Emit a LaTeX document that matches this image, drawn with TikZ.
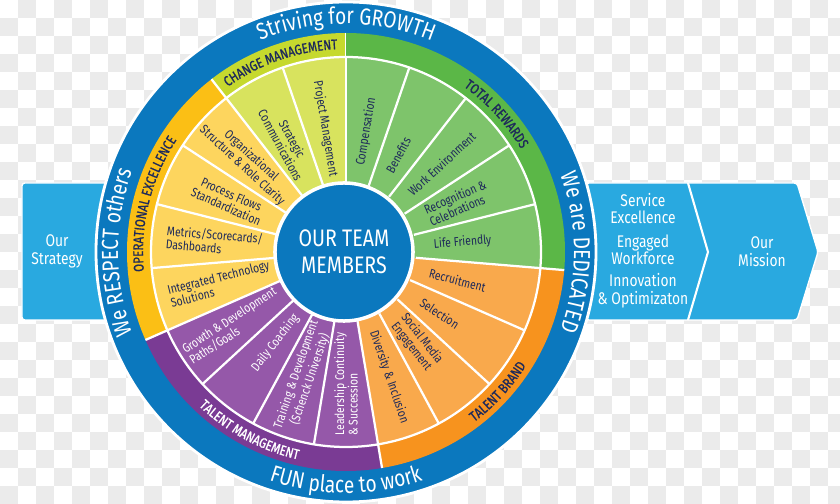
\documentclass[tikz,border=0pt]{standalone}
\usepackage{fontspec}
\setmainfont{Fira Sans}[FakeStretch=0.82]
\newfontfamily\medfont{Fira Sans}[FakeStretch=0.82, FakeBold=0.9]
\usetikzlibrary{decorations.text}

\definecolor{ringblue}{HTML}{0B78BE}
\definecolor{arrowblue}{HTML}{29A9E0}
\definecolor{navy}{HTML}{1E2A5A}
\definecolor{checker}{HTML}{EBEBEB}
\definecolor{cmband}{HTML}{C6D92E}
\definecolor{cmsub}{HTML}{D8E35E}
\definecolor{oeband}{HTML}{FBBF15}
\definecolor{oesub}{HTML}{FDD55E}
\definecolor{tmband}{HTML}{7A3B94}
\definecolor{tmsub}{HTML}{9558A9}
\definecolor{tbband}{HTML}{F7931E}
\definecolor{tbsub}{HTML}{F9A94C}
\definecolor{trband}{HTML}{5BB747}
\definecolor{trsub}{HTML}{7EC46B}

\newcommand\ringfont{\fontsize{16.5}{17}\selectfont\color{white}}
\newcommand\bandfont{\medfont\fontsize{10}{10}\selectfont\color{navy}}
\newcommand\bandfontw{\medfont\fontsize{10}{10}\selectfont\color{white}}
\def\w{18.947}

\begin{document}
\begin{tikzpicture}[x=0.025cm, y=0.025cm,
  sub/.style={font=\fontsize{9}{9.5}\selectfont, text=navy, align=center, inner sep=0pt},
  subw/.style={sub, text=white},
  arrtext/.style={font=\fontsize{12}{12.5}\selectfont, text=white, align=center},
  sep/.style={draw=white, line width=1.6pt},
  curved/.style={decorate, decoration={text along path, text align=center, text={#1}}}
]
\useasboundingbox (-346,-252) rectangle (494,252);

% background
\foreach \i in {0,...,46}{
  \foreach \j in {0,...,27}{
    \pgfmathtruncatemacro\odd{mod(\i+\j,2)}
    \ifnum\odd=1 \fill[checker] ({18*\i-346},{252-18*\j}) rectangle ++(18,-18); \fi
  }
}

% arrows behind the wheel
\filldraw[fill=arrowblue, draw=white, line width=1pt, rounded corners=2pt]
  (-324,69) rectangle (-180,-68);
\filldraw[fill=arrowblue, draw=white, line width=1pt, rounded corners=2pt]
  (240,69) -- (451,69) -- (472,0) -- (451,-68) -- (240,-68) -- cycle;
\draw[white, line width=1.5pt] (342,69) -- (362,0) -- (342,-68);
\node[arrtext] (strategy) at (-289,0.5) {Our\\Strategy};
\node[arrtext] (values) at (297,1.5) {Service\\Excellence\\[4pt]Engaged\\Workforce\\[3pt]Innovation\\\& Optimizaton};
\node[arrtext] (mission) at (416,0.5) {Our\\Mission};

% wheel
\filldraw[fill=ringblue, draw=white, line width=2pt] (0,0) circle (250);
\foreach \s/\n/\band/\sub in {0/2/cmband/cmsub, 2/4/oeband/oesub, 6/4/tmband/tmsub,
                              10/4/tbband/tbsub, 14/5/trband/trsub}{
  \fill[\band] (0,0) -- ({90+\s*\w}:219) arc[start angle={90+\s*\w}, delta angle={\n*\w}, radius=219] -- cycle;
  \fill[\sub] (0,0) -- ({90+\s*\w}:195) arc[start angle={90+\s*\w}, delta angle={\n*\w}, radius=195] -- cycle;
  \draw[sep] ({90+\s*\w}:195) -- ({90+\s*\w}:219);
}
\foreach \k in {0,...,18}
  \draw[sep] ({90+\k*\w}:70) -- ({90+\k*\w}:195);
\draw[sep] (0,0) circle (195);

\node[circle, fill=ringblue, draw=white, line width=2.5pt, minimum size=3.45cm, inner sep=0pt,
  text=white, align=center, font=\fontsize{17}{19.5}\selectfont] (hub) at (-2,0) {OUR TEAM\\MEMBERS};

% ring texts
\path[curved={|\ringfont|Striving for GROWTH}] (130:228) arc[start angle=130, end angle=50, radius=228];
\path[curved={|\ringfont|We are DEDICATED}] (35:228) arc[start angle=35, end angle=-35, radius=228];
\path[curved={|\ringfont|FUN place to work}] (235:241) arc[start angle=235, end angle=305, radius=241];
\path[curved={|\ringfont|We RESPECT others}] (215:228) arc[start angle=215, end angle=145, radius=228];

% band labels
\path[curved={|\bandfont|CHANGE MANAGEMENT}] (128:203) arc[start angle=128, end angle=90, radius=203];
\path[curved={|\bandfont|TOTAL REWARDS}] (76:203) arc[start angle=76, end angle=9, radius=203];
\path[curved={|\bandfont|OPERATIONAL EXCELLENCE}] (203:203) arc[start angle=203, end angle=129, radius=203];
\path[curved={|\bandfontw|TALENT MANAGEMENT}] (206:213) arc[start angle=206, end angle=277.2, radius=213];
\path[curved={|\bandfont|TALENT BRAND}] (288:213) arc[start angle=288, end angle=346.8, radius=213];

% sectors
\node[sub, rotate=-80.5] (project) at (99.5:125) {Project Management};
\node[sub, rotate=-61.6] (strategic) at (118.4:125) {Strategic\\Communications};
\node[sub, rotate=-42.6] (orgstruct) at (137.4:135) {Organizational\\Structure \& Role Clarity};
\node[sub, rotate=-23.7] (process) at (156.3:128) {Process Flows\\Standardization};
\node[sub, rotate=-4.7, align=left] (metrics) at (175.3:132) {Metrics/Scorecards/\\Dashboards};
\node[sub, rotate=14.2, align=left] (integrated) at (194.2:130) {Integrated Technology\\Solutions};
\node[subw, rotate=33.2, align=left] (growth) at (213.2:135) {Growth \& Development\\Paths/Goals};
\node[subw, rotate=52.1] (coaching) at (232.1:115) {Daily Coaching};
\node[subw, rotate=71.1] (training) at (251.1:132) {Training \& Development\\(Schenck University)};
\node[subw, rotate=90, align=left] (leadership) at (270:132) {Leadership Continuity\\\& Succession};
\node[sub, rotate=-71] (diversity) at (289:132) {Diversity \& Inclusion};
\node[sub, rotate=-52.1] (social) at (307.9:115) {Social Media\\Engagement};
\node[sub, rotate=-33.2] (selection) at (326.8:112) {Selection};
\node[sub, rotate=-14.2] (recruit) at (345.8:115) {Recruitment};
\node[sub, rotate=4.7] (life) at (4.7:117) {Life Friendly};
\node[sub, rotate=23.7, align=left] (recognition) at (23.7:122) {Recognition \&\\Celebrations};
\node[sub, rotate=42.6] (workenv) at (42.6:130) {Work Environment};
\node[sub, rotate=61.6] (benefits) at (61.6:110) {Benefits};
\node[sub, rotate=80.5] (compensation) at (80.5:122) {Compensation};
\end{tikzpicture}
\end{document}
